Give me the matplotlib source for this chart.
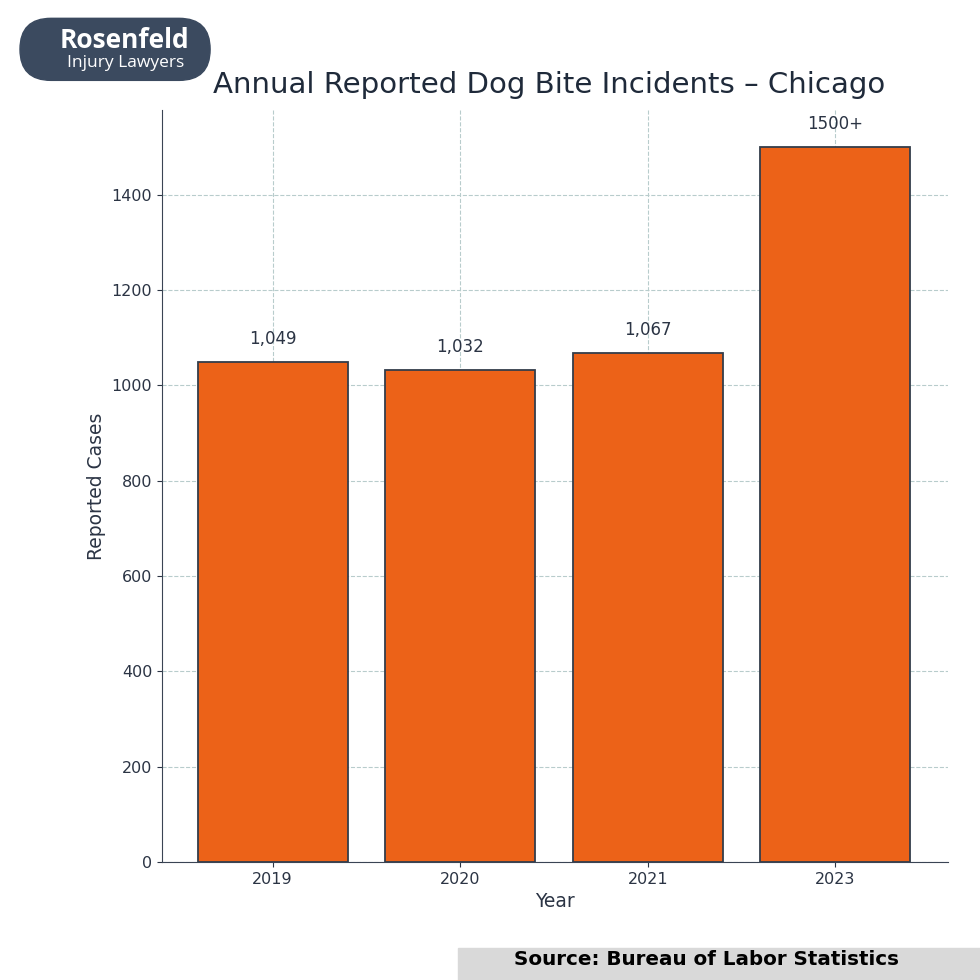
import matplotlib
matplotlib.use("Agg")
import matplotlib.pyplot as plt
from matplotlib.patches import FancyBboxPatch, Rectangle

years = ["2019", "2020", "2021", "2023"]
cases = [1049, 1032, 1067, 1500]
labels = ["1,049", "1,032", "1,067", "1500+"]

fig = plt.figure(figsize=(9.8, 9.8), dpi=100)
ax = fig.add_axes([0.1653, 0.1204, 0.802, 0.7674])
x = range(len(years))
ax.bar(x, cases, width=0.8, color="#EC6218", edgecolor="#333d4a", linewidth=1.3, zorder=3)
for i, (v, l) in enumerate(zip(cases, labels)):
    ax.text(i, v + 30, l, ha="center", va="bottom", fontsize=12, color="#2b3444")
ax.set_xticks(list(x))
ax.set_xticklabels(years)
ax.set_xlim(-0.59, 3.6)
ax.set_ylim(0, 1578)
ax.set_yticks(range(0, 1401, 200))
ax.grid(True, linestyle="--", color="#b8cccc", linewidth=0.8, zorder=0)
for s in ["top", "right"]:
    ax.spines[s].set_visible(False)
for s in ["left", "bottom"]:
    ax.spines[s].set_color("#3a4454")
ax.tick_params(labelsize=11.5, colors="#2b3444")
ax.set_xlabel("Year", fontsize=13.5, color="#2b3444")
ax.set_ylabel("Reported Cases", fontsize=13.5, color="#2b3444")
fig.text(0.5602, 0.913, "Annual Reported Dog Bite Incidents – Chicago", ha="center", va="center",
         fontsize=21.1, color="#1f2a3a")

# logo
fig.patches.append(FancyBboxPatch((0.0204, 0.918), 0.194, 0.0633,
                                  boxstyle="round,pad=0,rounding_size=0.0316",
                                  transform=fig.transFigure, color="#3b4a5f"))
fig.text(0.127, 0.959, "Rosenfeld", ha="center", va="center", fontsize=19, color="white",
         fontweight="bold", family="Open Sans")
fig.text(0.128, 0.936, "Injury Lawyers", ha="center", va="center", fontsize=12.5, color="white",
         family="Open Sans")

# source box
fig.patches.append(Rectangle((458 / 980, 0), 1 - 458 / 980, 32 / 980, transform=fig.transFigure,
                             color="#d9d9d9"))
fig.text(706 / 980, 21 / 980, "Source: Bureau of Labor Statistics", ha="center", va="center",
         fontsize=14.3, fontweight="bold", color="black")
fig.savefig("out.png", dpi=100)
